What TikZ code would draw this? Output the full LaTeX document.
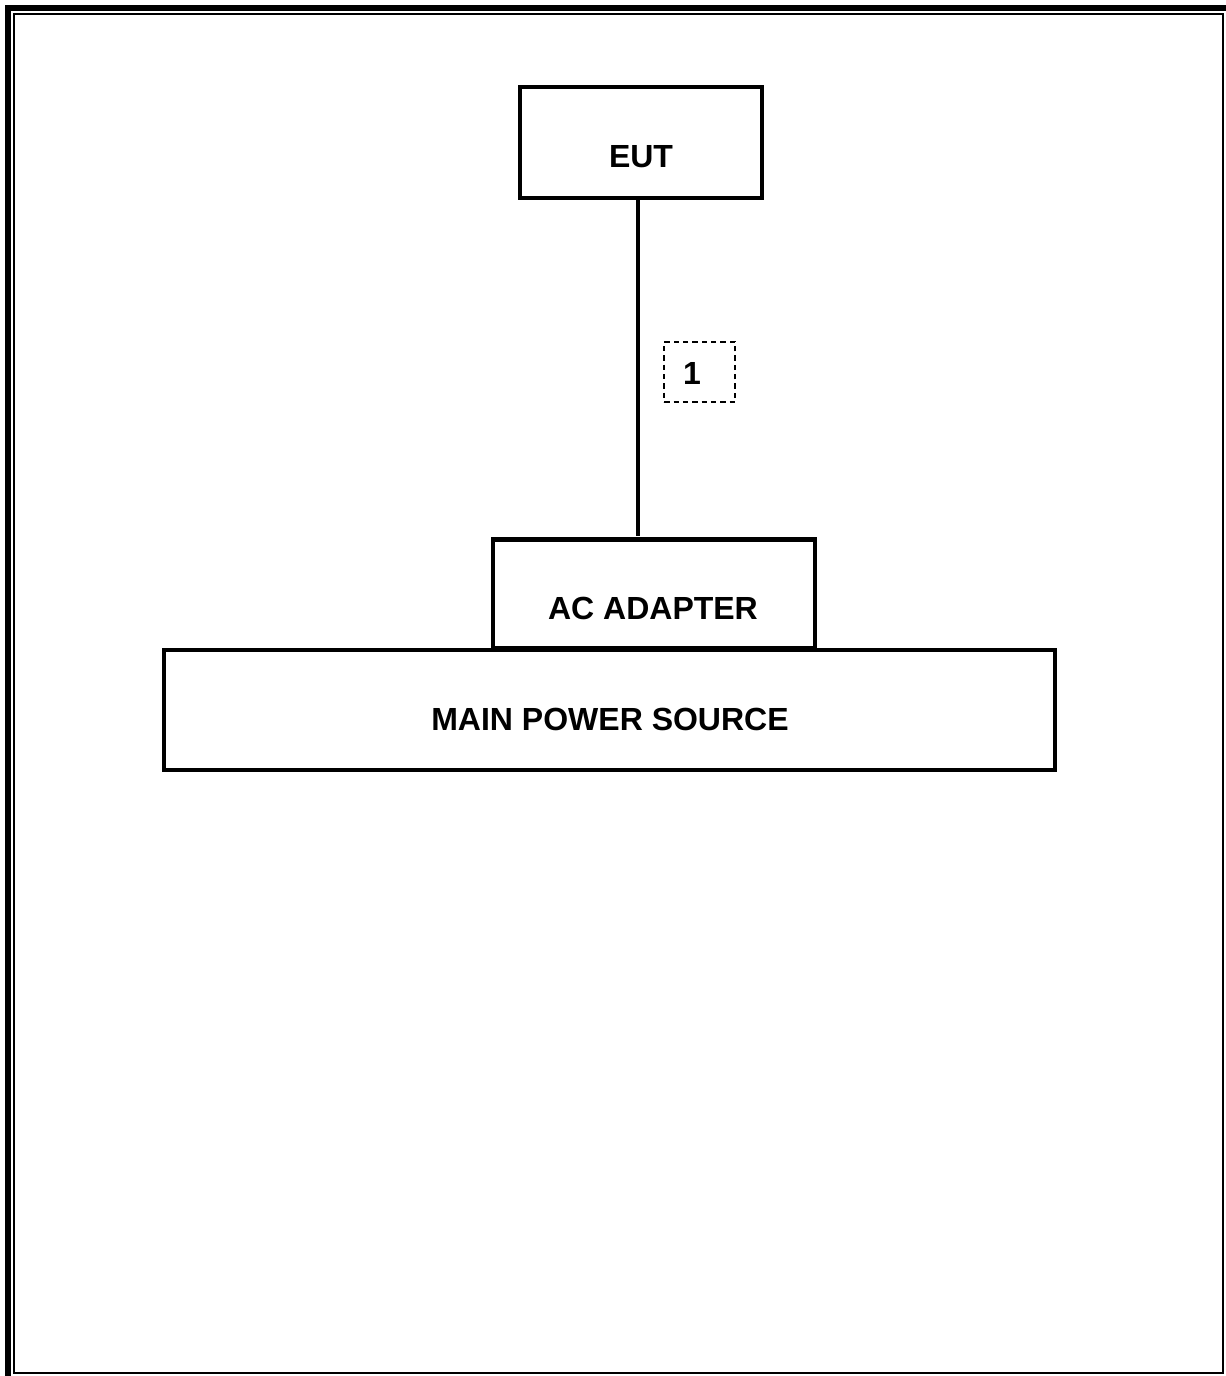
\documentclass[tikz,border=0pt]{standalone}
\usepackage{fontspec}
\setmainfont{Liberation Sans}
\begin{document}
\begin{tikzpicture}[x=0.75pt,y=-0.75pt,
  box/.style={draw=black,line width=3.4pt,inner sep=0pt},
  lbl/.style={font=\fontsize{24}{28}\selectfont\bfseries,inner sep=0pt},
  tag/.style={draw=black,line width=1.3pt,dash pattern=on 4pt off 3pt,inner sep=0pt,minimum width=53pt,minimum height=45pt},
  cable/.style={line width=3.4pt}]
\useasboundingbox (0,0) rectangle (1226,1376);
% page frame
\draw[line width=4.5pt] (8,1376) -- (8,8) -- (1226,8);
\draw[line width=1.6pt] (14,14) rectangle (1223,1373);
% boxes
\node[box,minimum width=181.5pt,minimum height=83pt] (eut) at (641,142.5) {};
\node[lbl] (eutt) at (641,157) {EUT};
\node[box,minimum width=241.5pt,minimum height=82pt] (ac) at (654,594) {};
\node[lbl] (act) at (653,608) {AC ADAPTER};
\node[box,minimum width=668pt,minimum height=90pt] (mps) at (609.5,710) {};
\node[lbl] (mpst) at (610,719) {MAIN POWER SOURCE};
% cable
\coordinate (ctop) at (638,198);
\coordinate (cbot) at (638,536);
\draw[cable] (ctop) -- (cbot);
% cable tag
\node[tag] (tag1) at (699.5,372) {};
\node[lbl] (tag1t) at (692,373) {1};
\end{tikzpicture}
\end{document}
